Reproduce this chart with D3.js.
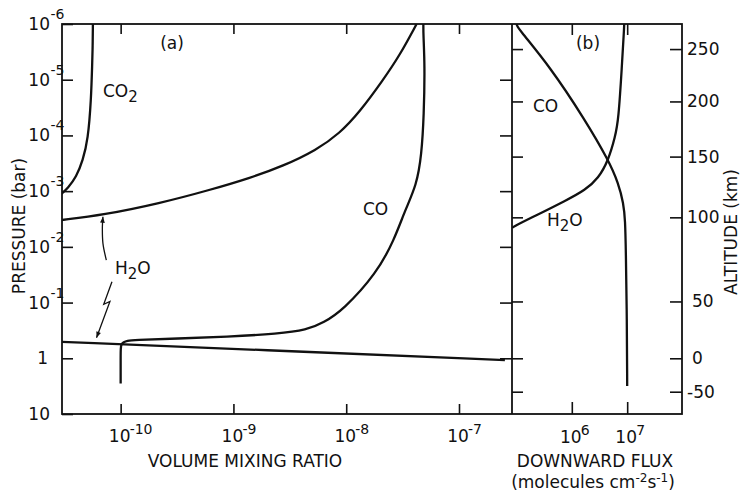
<!DOCTYPE html>
<html>
<head>
<meta charset="utf-8">
<script src="https://cdn.jsdelivr.net/npm/d3@7"></script>
<style>
  body { margin: 0; background: #fff; }
  svg { font-family: "DejaVu Sans", sans-serif; }
  .tick line { stroke: #111; stroke-width: 1.6; }
</style>
</head>
<body>
<svg id="chart" width="742" height="497"></svg>
<script>
// all values are log10 (mixing ratio / flux in molecules cm-2 s-1 / pressure in bar)

// panel (a) curves
var co2Ratio = [-10.246, -10.248, -10.252, -10.262, -10.29, -10.335, -10.393, -10.468, -10.525];
var co2Press = [-6, -5.6, -5.3, -4.636, -3.917, -3.558, -3.253, -3.056, -2.95];

var h2oUpRatio = [-10.525, -10.157, -9.654, -9.21, -8.855, -8.56, -8.264, -8.057, -7.879, -7.673, -7.524, -7.376];
var h2oUpPress = [-2.481, -2.571, -2.781, -3.02, -3.235, -3.45, -3.738, -4.038, -4.425, -4.995, -5.443, -6];

var h2oLowRatio = [-10.525, -8.767, -6.593];
var h2oLowPress = [-0.296, -0.150, 0.032];

var coRatio = [-10, -10, -10, -10, -9.992, -9.975, -9.94, -9.891, -9.5, -9.062, -8.6, -8.352, -8.2, -8.028, -7.731, -7.575, -7.478, -7.376, -7.332, -7.311, -7.303, -7.316, -7.316];
var coPress = [0.451, 0.2, 0.05, -0.2, -0.255, -0.29, -0.315, -0.327, -0.355, -0.386, -0.44, -0.506, -0.64, -0.865, -1.524, -2.122, -2.66, -3.109, -3.648, -4.366, -5.264, -5.8, -6];

// panel (b) curves
var coFlux = [5.005, 5.005, 5.608, 6.241, 6.662, 6.843, 6.933, 6.964, 6.976, 6.995, 7.0, 7.0];
var coFluxPress = [-6, -5.95, -5.233, -4.277, -3.558, -3.14, -2.781, -2.481, -1.943, -0.686, 0.45, 0.499];

var h2oFlux = [4.92, 4.92, 5.306, 5.91, 6.241, 6.481, 6.662, 6.783, 6.843, 6.904, 6.946, 6.946];
var h2oFluxPress = [-2.332, -2.35, -2.54, -2.84, -3.02, -3.23, -3.558, -3.977, -4.277, -5.233, -5.95, -6];

// H2O pointers in panel (a)
var arrowUpRatio = [-10.127, -10.157, -10.162, -10.157];
var arrowUpPress = [-1.763, -2.063, -2.361, -2.54];
var arrowDownRatio = [-10.077, -10.150, -10.095, -10.214];
var arrowDownPress = [-1.373, -0.97, -1.02, -0.37];

// ticks
var pressureTicks = [-6, -5, -4, -3, -2, -1, 0, 1];
var ratioTicks = [-10, -9, -8, -7];
var fluxTicks = [6, 7];
var altitudeLabels = [250, 200, 150, 100, 50, 0, -50];
var altitudePress = [-5.55, -4.61, -3.62, -2.53, -1.02, 0.0, 0.60];

function pw(v) { return Math.pow(10, v); }

var svg = d3.select('#chart');
var plotTop = 24, plotBottom = 414, leftX = 62, midX = 512, rightX = 682;
var ink = '#111';

var y = d3.scaleLog().domain([1e-6, 10]).range([plotTop, plotBottom]);
var xA = d3.scaleLog().domain([pw(-10.52), pw(-6.53)]).range([leftX, midX]);
var xB = d3.scaleLog().domain([pw(4.92), pw(7.99)]).range([midX, rightX]);

var defs = svg.append('defs');
defs.append('clipPath').attr('id', 'clipA').append('rect')
    .attr('x', leftX).attr('y', plotTop).attr('width', midX - leftX).attr('height', plotBottom - plotTop);
defs.append('clipPath').attr('id', 'clipB').append('rect')
    .attr('x', midX).attr('y', plotTop).attr('width', rightX - midX).attr('height', plotBottom - plotTop);

// ticks (all pointing inward)
function ticks(axis, tx, ty) {
    var g = svg.append('g').attr('transform', 'translate(' + tx + ',' + ty + ')').call(axis);
    g.select('.domain').remove();
    return g;
}
ticks(d3.axisRight(y).tickValues(pressureTicks.map(pw)).tickSize(11).tickFormat(''), leftX, 0);
ticks(d3.axisLeft(y).tickValues(pressureTicks.slice(1, 7).map(pw)).tickSize(12).tickFormat(''), midX, 0);
ticks(d3.axisTop(xA).tickValues(ratioTicks.map(pw)).tickSize(10).tickFormat(''), 0, plotBottom);
ticks(d3.axisBottom(xA).tickValues(ratioTicks.map(pw)).tickSize(10).tickFormat(''), 0, plotTop);
ticks(d3.axisTop(xB).tickValues(fluxTicks.map(pw)).tickSize(12).tickFormat(''), 0, plotBottom);
ticks(d3.axisBottom(xB).tickValues(fluxTicks.map(pw)).tickSize(11).tickFormat(''), 0, plotTop);
ticks(d3.axisRight(y).tickValues(altitudePress.map(pw)).tickSize(11).tickFormat(''), midX, 0);
ticks(d3.axisLeft(y).tickValues(altitudePress.map(pw)).tickSize(12).tickFormat(''), rightX, 0);

// frames
svg.append('rect').attr('x', leftX).attr('y', plotTop).attr('width', rightX - leftX).attr('height', plotBottom - plotTop)
    .attr('fill', 'none').attr('stroke', ink).attr('stroke-width', 1.8);
svg.append('line').attr('x1', midX).attr('x2', midX).attr('y1', plotTop).attr('y2', plotBottom)
    .attr('stroke', ink).attr('stroke-width', 1.8);

// curves (smoothed through the read-off points)
var lineA = d3.line()
    .x(function (d) { return xA(pw(d[0])); })
    .y(function (d) { return y(pw(d[1])); })
    .curve(d3.curveBasis);
var lineB = d3.line()
    .x(function (d) { return xB(pw(d[0])); })
    .y(function (d) { return y(pw(d[1])); })
    .curve(d3.curveBasis);

var gA = svg.append('g').attr('clip-path', 'url(#clipA)');
[[co2Ratio, co2Press], [h2oUpRatio, h2oUpPress], [h2oLowRatio, h2oLowPress], [coRatio, coPress]]
    .forEach(function (s) {
        gA.append('path').attr('d', lineA(d3.zip(s[0], s[1])))
            .attr('fill', 'none').attr('stroke', ink).attr('stroke-width', 2.3);
    });
var gB = svg.append('g').attr('clip-path', 'url(#clipB)');
[[coFlux, coFluxPress], [h2oFlux, h2oFluxPress]]
    .forEach(function (s) {
        gB.append('path').attr('d', lineB(d3.zip(s[0], s[1])))
            .attr('fill', 'none').attr('stroke', ink).attr('stroke-width', 2.3);
    });

// pointers with arrow heads
defs.append('marker').attr('id', 'head').attr('viewBox', '0 0 10 10')
    .attr('refX', 10).attr('refY', 5).attr('markerWidth', 9).attr('markerHeight', 6)
    .attr('markerUnits', 'userSpaceOnUse').attr('orient', 'auto')
    .append('path').attr('d', 'M0,1 L10,5 L0,9 Z').attr('fill', ink);
svg.append('path').attr('d', lineA.curve(d3.curveCatmullRom)(d3.zip(arrowUpRatio, arrowUpPress)))
    .attr('fill', 'none').attr('stroke', ink).attr('stroke-width', 1.3).attr('marker-end', 'url(#head)');
svg.append('path').attr('d', lineA.curve(d3.curveLinear)(d3.zip(arrowDownRatio, arrowDownPress)))
    .attr('fill', 'none').attr('stroke', ink).attr('stroke-width', 1.3).attr('marker-end', 'url(#head)');

// tick labels
var fs = 17, sup = 14;
pressureTicks.forEach(function (p) {
    var yy = y(pw(p));
    if (p === 0) {
        svg.append('text').attr('x', 48).attr('y', yy + 6).attr('font-size', fs)
            .attr('text-anchor', 'end').attr('fill', ink).text('1');
    } else if (p === 1) {
        svg.append('text').attr('x', 50).attr('y', yy + 6).attr('font-size', fs)
            .attr('text-anchor', 'end').attr('fill', ink).text('10');
    } else {
        svg.append('text').attr('x', 50).attr('y', yy + 6).attr('font-size', fs)
            .attr('text-anchor', 'end').attr('fill', ink).text('10');
        svg.append('text').attr('x', 50.5).attr('y', yy - 5).attr('font-size', sup)
            .attr('fill', ink).text('-' + Math.abs(p));
    }
});
ratioTicks.forEach(function (r) {
    var xx = xA(pw(r));
    svg.append('text').attr('x', xx - 1).attr('y', 442).attr('font-size', fs)
        .attr('text-anchor', 'middle').attr('fill', ink).text('10');
    svg.append('text').attr('x', xx + 9).attr('y', 434).attr('font-size', sup)
        .attr('fill', ink).text('-' + Math.abs(r));
});
fluxTicks.forEach(function (f) {
    var xx = xB(pw(f));
    svg.append('text').attr('x', xx - 1).attr('y', 443).attr('font-size', fs)
        .attr('text-anchor', 'middle').attr('fill', ink).text('10');
    svg.append('text').attr('x', xx + 9).attr('y', 435).attr('font-size', sup)
        .attr('fill', ink).text(f);
});
altitudeLabels.forEach(function (a, i) {
    svg.append('text').attr('x', a === 0 || a === 50 ? 692 : 687).attr('y', y(pw(altitudePress[i])) + 6)
        .attr('font-size', fs).attr('fill', ink).text(a);
});

// axis titles
svg.append('text').attr('transform', 'translate(25,226) rotate(-90)').attr('text-anchor', 'middle')
    .attr('font-size', fs).attr('fill', ink).text('PRESSURE (bar)');
svg.append('text').attr('transform', 'translate(737,232) rotate(-90)').attr('text-anchor', 'middle')
    .attr('font-size', fs).attr('fill', ink).text('ALTITUDE (km)');
svg.append('text').attr('x', 245).attr('y', 467).attr('text-anchor', 'middle')
    .attr('font-size', fs).attr('fill', ink).text('VOLUME MIXING RATIO');
svg.append('text').attr('x', 595).attr('y', 467).attr('text-anchor', 'middle')
    .attr('font-size', fs).attr('fill', ink).text('DOWNWARD FLUX');
var units = svg.append('text').attr('x', 593).attr('y', 488).attr('text-anchor', 'middle')
    .attr('font-size', fs).attr('fill', ink);
units.append('tspan').text('(molecules cm');
units.append('tspan').attr('dy', -6).attr('font-size', 12).text('-2');
units.append('tspan').attr('dy', 6).text('s');
units.append('tspan').attr('dy', -6).attr('font-size', 12).text('-1');
units.append('tspan').attr('dy', 6).text(')');

// curve labels
function chem(xPos, yPos, parts) {
    var t = svg.append('text').attr('x', xPos).attr('y', yPos).attr('font-size', fs).attr('fill', ink);
    parts.forEach(function (p) {
        if (p[1]) t.append('tspan').attr('dy', 5).attr('font-size', sup + 1).text(p[0]);
        else t.append('tspan').attr('dy', p[2] || 0).text(p[0]);
    });
}
chem(103, 97, [['CO'], ['2', true]]);
chem(363, 215, [['CO']]);
chem(115, 274, [['H'], ['2', true], ['O', false, -5]]);
chem(533, 112, [['CO']]);
chem(547, 226, [['H'], ['2', true], ['O', false, -5]]);
svg.append('text').attr('x', 172).attr('y', 49).attr('text-anchor', 'middle')
    .attr('font-size', fs).attr('fill', ink).text('(a)');
svg.append('text').attr('x', 588).attr('y', 49).attr('text-anchor', 'middle')
    .attr('font-size', fs).attr('fill', ink).text('(b)');
</script>
</body>
</html>
